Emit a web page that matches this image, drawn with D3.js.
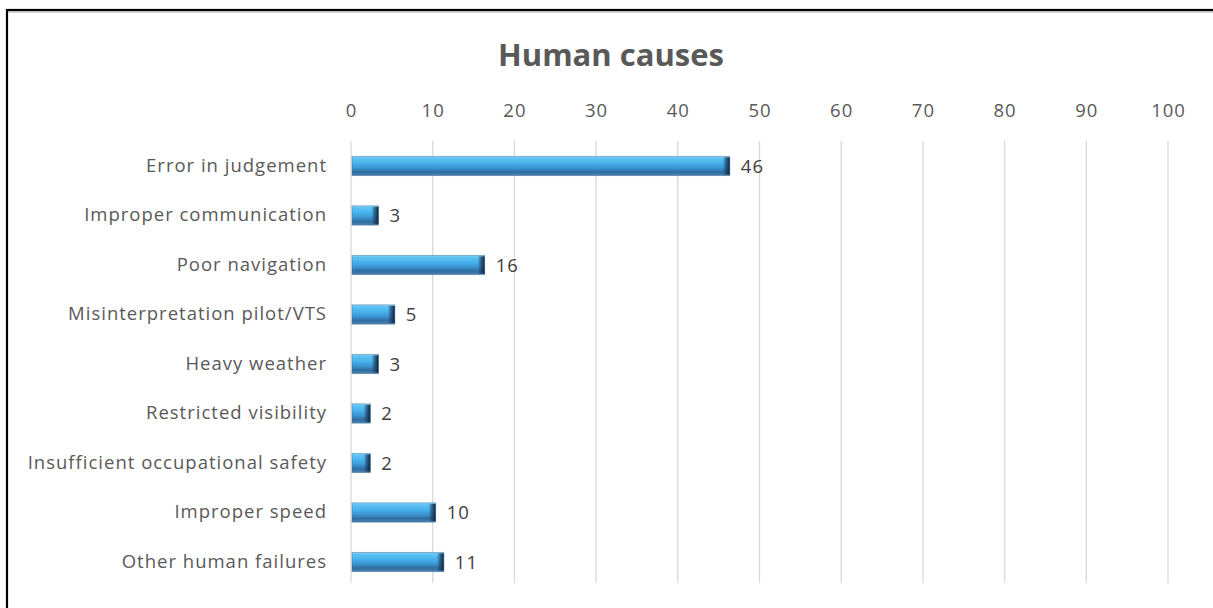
<!DOCTYPE html>
<html>
<head>
<meta charset="utf-8">
<script src="https://cdn.jsdelivr.net/npm/d3@7"></script>
<style>
  html, body { margin: 0; padding: 0; background: #fff; }
  svg { display: block; }
</style>
</head>
<body>
<svg id="chart" width="1213" height="608"></svg>
<script>
// Human causes of accidents
const categories = [
  "Error in judgement",
  "Improper communication",
  "Poor navigation",
  "Misinterpretation pilot/VTS",
  "Heavy weather",
  "Restricted visibility",
  "Insufficient occupational safety",
  "Improper speed",
  "Other human failures"
];
const values = [46, 3, 16, 5, 3, 2, 2, 10, 11];
const tickValues = [0, 10, 20, 30, 40, 50, 60, 70, 80, 90, 100];
const title = "Human causes";

const svg = d3.select("#chart");
const W = 1213, H = 608;
const font = "'Open Sans', 'Noto Sans', sans-serif";
const textColor = "#595959";
const labelSize = 18.5, labelSpacing = 1.0;

// Outer frame
svg.append("rect").attr("x", 7).attr("y", 10).attr("width", W).attr("height", H)
  .attr("fill", "#fff").attr("stroke", "#000").attr("stroke-width", 2.2);
svg.append("line").attr("x1", 8).attr("x2", W).attr("y1", 12).attr("y2", 12)
  .attr("stroke", "#a0a0a0").attr("stroke-width", 1);

const plot = { left: 351, right: 1168, top: 141, bottom: 583 };

const x = d3.scaleLinear().domain([0, 100]).range([plot.left, plot.right]);
const y = d3.scaleBand().domain(categories).range([141, 587]).paddingInner(0.61).paddingOuter(0.31);

// Gradients for the bevelled bars
const defs = svg.append("defs");
const vg = defs.append("linearGradient").attr("id", "barV").attr("x1", 0).attr("y1", 0).attr("x2", 0).attr("y2", 1);
[
  [0, "#8dd4f7"], [0.1, "#5ec3f3"], [0.35, "#48b2ec"], [0.6, "#3b95d2"],
  [0.82, "#2e6c9f"], [1, "#4f86b2"]
].forEach(([o, c]) => vg.append("stop").attr("offset", o).attr("stop-color", c));

const hg = defs.append("linearGradient").attr("id", "barCap").attr("x1", 0).attr("y1", 0).attr("x2", 1).attr("y2", 0);
[
  [0, "#1d3a5a", 0], [0.45, "#1d3a5a", 0.65], [1, "#0f2238", 1]
].forEach(([o, c, a]) => hg.append("stop").attr("offset", o).attr("stop-color", c).attr("stop-opacity", a));

// Gridlines
svg.append("g").selectAll("line").data(tickValues).join("line")
  .attr("x1", d => x(d)).attr("x2", d => x(d))
  .attr("y1", plot.top).attr("y2", plot.bottom)
  .attr("stroke", "#d9d9d9").attr("stroke-width", 1.3);

// Top axis labels
const xAxis = d3.axisTop(x).tickValues(tickValues).tickSize(0).tickPadding(0);
const gx = svg.append("g").attr("transform", `translate(0,${117})`).call(xAxis);
gx.select(".domain").remove();
gx.selectAll("text").attr("font-family", font).attr("font-size", labelSize)
  .attr("letter-spacing", labelSpacing).attr("fill", textColor);

// Category labels
const yAxis = d3.axisLeft(y).tickSize(0).tickPadding(0);
const gy = svg.append("g").attr("transform", `translate(${327},0)`).call(yAxis);
gy.select(".domain").remove();
gy.selectAll("text").attr("font-family", font).attr("font-size", labelSize)
  .attr("letter-spacing", labelSpacing).attr("fill", textColor);

// Bars
const bars = svg.append("g").selectAll("g").data(values).join("g");
bars.append("rect")
  .attr("x", x(0) + 1).attr("y", (d, i) => y(categories[i]))
  .attr("width", d => x(d) - x(0) + 2).attr("height", y.bandwidth())
  .attr("fill", "url(#barV)");
bars.append("rect")
  .attr("x", d => x(d) + 3 - Math.min(7, (x(d) - x(0)) * 0.4)).attr("y", (d, i) => y(categories[i]) + 1)
  .attr("width", d => Math.min(7, (x(d) - x(0)) * 0.4)).attr("height", y.bandwidth() - 2)
  .attr("fill", "url(#barCap)");
bars.append("rect")
  .attr("x", x(0) + 1).attr("y", (d, i) => y(categories[i]))
  .attr("width", d => x(d) - x(0) + 2).attr("height", y.bandwidth())
  .attr("fill", "none").attr("stroke", "#3d6f9a").attr("stroke-width", 0.8).attr("stroke-opacity", 0.6);

// Value labels
svg.append("g").selectAll("text").data(values).join("text")
  .attr("x", d => x(d) + 14).attr("y", (d, i) => y(categories[i]) + y.bandwidth() / 2)
  .attr("dy", "0.36em")
  .attr("font-family", font).attr("font-size", labelSize).attr("letter-spacing", labelSpacing)
  .attr("fill", "#404040")
  .text(d => d);

// Title
svg.append("text").attr("x", 611).attr("y", 66).attr("text-anchor", "middle")
  .attr("font-family", font).attr("font-weight", "bold").attr("font-size", 31)
  .attr("fill", textColor).text(title);
</script>
</body>
</html>
